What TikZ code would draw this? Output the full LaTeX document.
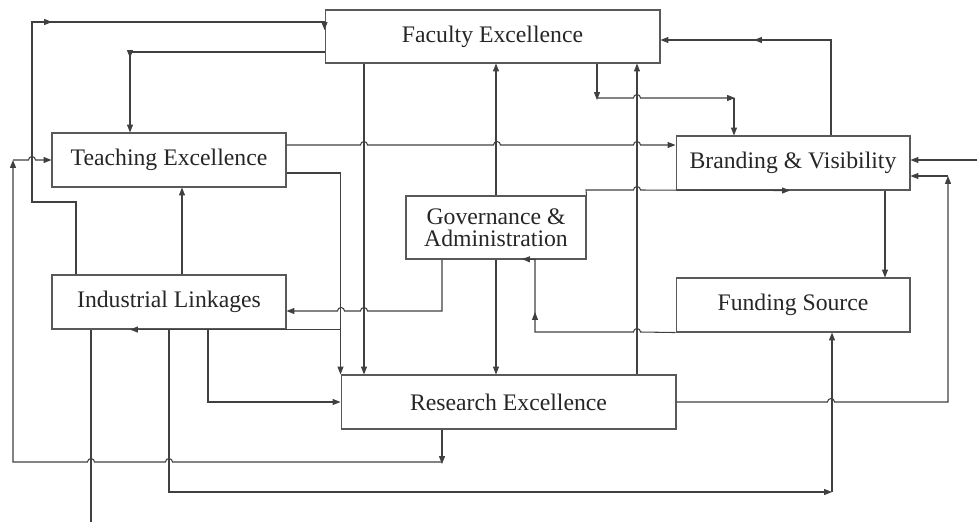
\documentclass[tikz,border=0pt]{standalone}
\usepackage{fontspec}
\setmainfont{Liberation Serif}
\usepackage{tikz}
\usetikzlibrary{arrows.meta}
% line jumps over a crossing line, going right / going left
\newcommand{\hopr}[2]{-- ([xshift=-2pt]#1,#2) arc[start angle=180,end angle=0,radius=2pt]}
\newcommand{\hopl}[2]{-- ([xshift=2pt]#1,#2) arc[start angle=0,end angle=180,radius=2pt]}

\begin{document}
\begin{tikzpicture}[x=0.02cm, y=-0.02cm,
		box/.style={draw=black!65, line width=0.6pt, inner sep=0pt, minimum width=4.68cm, minimum height=1.08cm, text=black!85, font=\fontsize{13.5}{12.8}\selectfont, align=center},
		wire/.style={draw=black!75, line width=0.6pt},
		link/.style={wire, -{Triangle[length=4.5pt,width=3.4pt]}}]
	\useasboundingbox (0,0) rectangle (977,522);

	\node[box, minimum width=6.7cm, minimum height=1.06cm] (fac) at (492.5,36.5) {Faculty Excellence};
	\node[box] (teach) at (169,160) {Teaching Excellence};
	\node[box] (brand) at (793,163) {Branding \& Visibility};
	\node[box, minimum width=3.6cm, minimum height=1.26cm] (gov) at (496,227.5) {Governance \&\\Administration};
	\node[box] (ind) at (169,302) {Industrial Linkages};
	\node[box] (fund) at (793,305) {Funding Source};
	\node[box, minimum width=6.7cm] (res) at (508.5,402) {Research Excellence};
	\coordinate (in) at (977,160);
	\coordinate (out) at (91,522);

	% faculty excellence
	\draw[link] (ind.north -| 76,0) |- (32,202) |- (52,22);
	\draw[link] (48,22) -| (fac.north west |- 0,30);
	\draw[link] (fac.west |- 0,52) -| (130,58);
	\draw[link] (130,52) -- (teach.north -| 130,0);
	\draw[link] (fac.south -| 364,0) -- (res.north -| 364,0);
	\draw[link] (fac.south -| 597,0) -- (597,100);
	\draw[link] (597,98) \hopr{637}{98} -- (735,98);
	\draw[link] (734,98) -- (brand.north -| 734,0);

	% teaching excellence
	\draw[link] (teach.east |- 0,145) \hopr{364}{145} \hopr{497}{145} \hopr{637}{145} -- (brand.west |- 0,145);
	\draw[link] (teach.east |- 0,173) -| (res.north west);
	\draw[link] (res.north west |- ind.south) -- (ind.south -| 130,0);

	% governance
	\draw[link] (gov.north) -- (gov.north |- fac.south);
	\draw[link] (gov.south) -- (gov.south |- res.north);
	\draw[link] (gov.south -| 442,0) -- (442,311) \hopl{364}{311} \hopl{341}{311} -- (ind.east |- 0,311);
	\draw[link] (gov.north east) -- (586,190) \hopr{637}{190} -- (brand.south -| 790,0);

	% branding and funding
	\draw[link] (brand.north -| 831,0) |- (754,40);
	\draw[link] (757,40) -- (fac.east |- 0,40);
	\draw[link] (in) -- (brand.east |- in);
	\draw[link] (brand.south -| 885,0) -- (fund.north -| 885,0);
	\draw[link] (fund.south west) \hopl{637}{332} -- (535,332) -- (535,312);
	\draw[link] (535,316) -- (gov.south -| 535,0) -- (522,259);

	% research excellence
	\draw[link] (res.north -| 637,0) -- (fac.south -| 637,0);
	\draw[link] (res.east) \hopr{831}{402} -- (948,402) -- (948,176);
	\draw[link] (948,176) -- (brand.east |- 0,176);
	\draw[link] (res.south -| 442,0) -- (442,464);
	\draw[link] (442,462) \hopl{169}{462} \hopl{91}{462} -- (13,462) -- (13,160);
	\draw[link] (13,160) \hopr{32}{160} -- (teach.west);

	% industrial linkages
	\draw[link] (ind.north -| 182,0) -- (teach.south -| 182,0);
	\draw[link] (ind.south -| 208,0) |- (res.west);
	\draw[link] (ind.south) -- (169,492) -- (832,492);
	\draw[link] (832,492) -- (fund.south -| 832,0);
	\draw[wire] (ind.south -| out) -- (out);
\end{tikzpicture}
\end{document}
